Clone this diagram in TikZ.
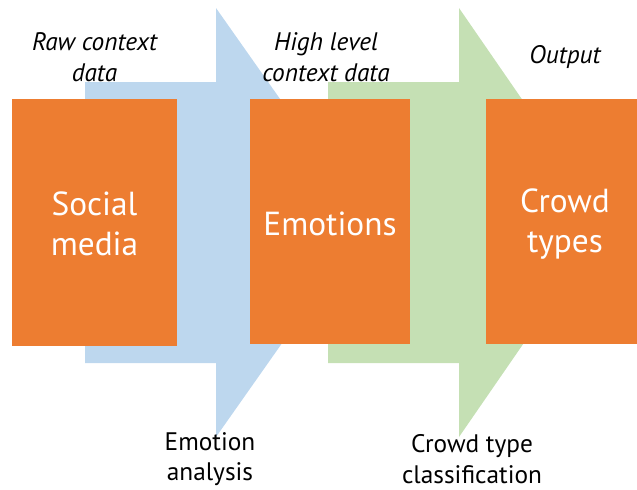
\documentclass[tikz,border=0pt]{standalone}
\usepackage{fontspec}
\setmainfont{PT Sans}
\definecolor{boxorange}{RGB}{237,125,49}
\definecolor{flowblue}{RGB}{189,215,238}
\definecolor{flowgreen}{RGB}{197,224,180}

\tikzset{every picture/.style={line width=0.75pt}}
\tikzset{
  stagefill/.style={fill=boxorange, draw=none},
  stagetext/.style={inner sep=0.75pt, align=center, text=white, font=\fontsize{25}{30}\selectfont},
  flowtext/.style={inner sep=0.75pt, align=center, font=\fontsize{19}{23}\selectfont},
  datatext/.style={flowtext, font=\itshape\fontsize{19}{23}\selectfont}
}

\begin{document}
\begin{tikzpicture}[x=0.75pt,y=0.75pt,yscale=-1,xscale=1]
\useasboundingbox (0,0) rectangle (637,490);

%Shape: Right Arrow [id:emotionflow]
\draw [fill=flowblue, draw=none] (85,82) -- (216,82) -- (216,8) -- (367,222.5) -- (216,437) -- (216,363) -- (85,363) -- cycle ;
%Shape: Right Arrow [id:crowdflow]
\draw [fill=flowgreen, draw=none] (328,82) -- (459,82) -- (459,8) -- (607,222.5) -- (459,437) -- (459,363) -- (328,363) -- cycle ;

%Shape: Rectangle [id:socialbox]
\draw [stagefill] (12,99) rectangle (177,346) ;
%Shape: Rectangle [id:emotionbox]
\draw [stagefill] (250,99) rectangle (410,344) ;
%Shape: Rectangle [id:crowdbox]
\draw [stagefill] (486,99) rectangle (637,344) ;

% Text Node
\draw (94.5,224) node [stagetext] (social) {Social\\media};
% Text Node
\draw (330,224) node [stagetext] (emotions) {Emotions};
% Text Node
\draw (565,224) node [stagetext] (crowd) {Crowd\\types};

% Text Node
\draw (94.5,57) node [datatext] (rawdata) {Raw context\\data};
% Text Node
\draw (326,57) node [datatext] (highdata) {High level\\context data};
% Text Node
\draw (565,57) node [datatext] (output) {Output};

% Text Node
\draw (210,459) node [flowtext] (analysis) {Emotion\\analysis};
% Text Node
\draw (472,459) node [flowtext] (classify) {Crowd type\\classification};

\end{tikzpicture}
\end{document}
